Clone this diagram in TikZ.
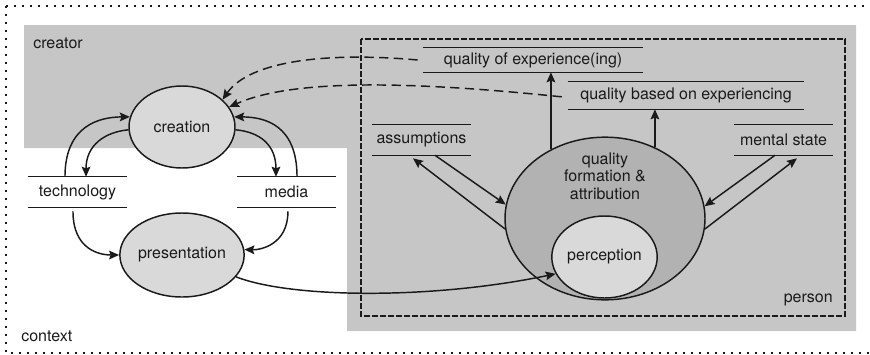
\documentclass[tikz,border=0pt]{standalone}
\usepackage{fontspec}
\setmainfont{TeX Gyre Heros}
\usetikzlibrary{shapes.geometric,arrows.meta}
\definecolor{regiongray}{HTML}{C5C6C5}
\definecolor{bubblefill}{HTML}{D9D9D9}
\definecolor{corefill}{HTML}{B2B2B2}
\definecolor{ink}{HTML}{1A1A1A}
\tikzset{
  every node/.style={font=\fontsize{12}{13}\selectfont, text=ink},
  bubble/.style={ellipse, draw=ink, line width=1.1pt, fill=bubblefill, inner sep=0pt},
  store/.style={minimum height=22.5pt, inner sep=0pt},
  storeline/.style={draw=ink, line width=0.9pt},
  flow/.style={draw=ink, line width=1.1pt, -{Stealth[length=7.5pt,width=6.5pt,inset=1.2pt]}},
  feedback/.style={flow, dash pattern=on 7pt off 4pt},
  regionlabel/.style={inner sep=0pt},
}
\begin{document}
\begin{tikzpicture}[x=0.75pt, y=-0.75pt]
  \useasboundingbox (0,0) rectangle (870,354);

  % context frame (runs off to the right)
  \draw[ink, line width=0.8pt, dash pattern=on 1.6pt off 4.4pt] (6,6) -- (890,6) (6,6) -- (6,353) -- (890,353);

  % creator band and person area
  \fill[regiongray] (24,25) -- (856,25) -- (856,331) -- (347,331) -- (347,148) -- (24,148) -- cycle;
  \draw[ink, line width=0.8pt, dash pattern=on 4.5pt off 1.5pt] (361,39) rectangle (845,316);

  \node[regionlabel, anchor=west] (creatorlbl) at (33,43) {creator};
  \node[regionlabel, anchor=west] (contextlbl) at (21,336) {context};
  \node[regionlabel, anchor=east] (personlbl) at (833,300) {person};

  % creator side
  \node[bubble, minimum width=79.5pt, minimum height=61.5pt] (creation) at (182,127) {creation};
  \node[bubble, minimum width=79.5pt, minimum height=63pt] (presentation) at (182,255) {presentation};
  \node[store, minimum width=74.25pt] (technology) at (77.5,192) {technology};
  \node[store, minimum width=74.25pt] (media) at (286.5,192) {media};

  % person side
  \node[ellipse, draw=ink, line width=1.1pt, fill=corefill, inner sep=0pt,
        minimum width=150pt, minimum height=122pt] (qfa) at (605,218.5) {};
  \node[align=center, inner sep=0pt] (qfatext) at (605,176) {quality\\formation \&\\attribution};
  \node[bubble, minimum width=77pt, minimum height=61.5pt] (perception) at (604.5,257) {perception};

  \node[store, minimum width=165pt, minimum height=18pt] (qoe) at (533,60) {quality of experience(ing)};
  \node[store, minimum width=177pt, minimum height=20.25pt] (qbe) at (686,95.5) {quality based on experiencing};
  \node[store, minimum width=74.25pt] (assumptions) at (421.5,140) {assumptions};
  \node[store, minimum width=74.25pt] (mental) at (783.5,140) {mental state};

  \foreach \n in {technology,media,qoe,qbe,assumptions,mental}
    \draw[storeline] (\n.north west) -- (\n.north east) (\n.south west) -- (\n.south east);

  % creation loop
  \draw[flow] ([xshift=-9.4pt]technology.north) .. controls (65,125) and (100,117) .. (creation.169);
  \draw[flow] (creation.183) .. controls (105,132) and (86,145) .. ([xshift=6.4pt]technology.north);
  \draw[flow] (creation.-3) .. controls (260,132) and (276,145) .. ([xshift=-7.9pt]media.north);
  \draw[flow] ([xshift=7.9pt]media.north) .. controls (297,125) and (265,117) .. (creation.11);

  \draw[flow] ([xshift=-3.4pt,yshift=-3pt]technology.south) .. controls (73,250) and (100,255) .. (presentation.180);
  \draw[flow] ([xshift=1.1pt,yshift=-3pt]media.south) .. controls (288,245) and (260,250) .. (presentation.5);

  \draw[flow] (presentation.-22) .. controls (290,298) and (430,300) .. (perception.199);

  % outcomes of quality formation
  \draw[flow] (qfa.128.2) -- (qfa.128.2 |- qoe.south);
  \draw[flow] (qfa.55.4) -- (qfa.55.4 |- qbe.south);

  \draw[flow] ([xshift=10.1pt]assumptions.south) -- (qfa.172.8);
  \draw[flow] (qfa.186.6) -- ([xshift=-6.4pt,yshift=-2.3pt]assumptions.south);
  \draw[flow] ([xshift=-6.4pt]mental.south) -- (qfa.7.2);
  \draw[flow] (qfa.-6.6) -- ([xshift=10.1pt,yshift=-2.3pt]mental.south);

  % feedback to creation
  \draw[feedback] ([xshift=-3.8pt]qoe.west) .. controls (330,52) and (250,60) .. (creation.34);
  \draw[feedback] ([xshift=-4.5pt,yshift=-1pt]qbe.west) .. controls (400,80) and (290,80) .. (creation.23);
\end{tikzpicture}
\end{document}
